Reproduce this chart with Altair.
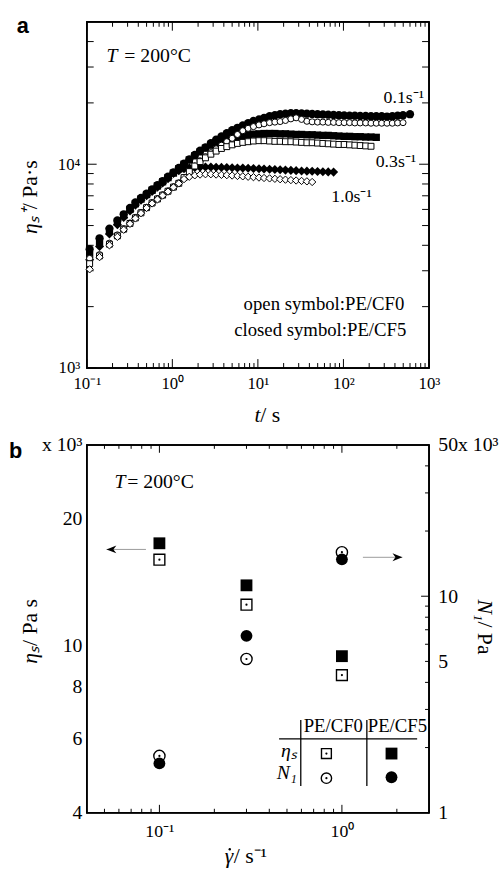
import altair as alt
import pandas as pd

SERIF = "Liberation Serif"
SANS = "Liberation Sans"

# ---------------- panel a : eta_s^+ (t) ----------------
T_GRID = [0.108, 0.141, 0.184, 0.228, 0.27, 0.32, 0.37, 0.43, 0.50, 0.58,
          0.67, 0.77, 0.89, 1.03, 1.19, 1.37, 1.58, 1.83, 2.11, 2.44,
          2.82, 3.25, 3.75, 4.33, 5.0, 5.77, 6.66, 7.69, 8.88, 10.3,
          11.8, 13.7, 15.8, 18.2, 21.0, 24.3, 28.0, 32.4, 37.4, 43.1,
          49.8, 57.5, 66.4, 76.7, 88.5, 102, 118, 136, 157, 182,
          210, 242, 280, 323, 373, 430, 497, 600]

# closed symbols : PE/CF5
CF5_01 = [3830, 4330, 4830, 5300, 5680, 6100, 6490, 6840, 7180, 7520,
          7890, 8270, 8690, 9120, 9590, 10060, 10570, 11100, 11650, 12100,
          12700, 13200, 13700, 14200, 14700, 15100, 15500, 15900, 16300, 16600,
          16900, 17200, 17400, 17600, 17700, 17800, 17800, 17750, 17700, 17650,
          17600, 17550, 17500, 17450, 17400, 17350, 17300, 17300, 17250, 17250,
          17200, 17200, 17200, 17150, 17200, 17300, 17400, 17600]
CF5_03 = [3600, 4150, 4700, 5200, 5600, 6000, 6400, 6750, 7100, 7450,
          7820, 8200, 8600, 9050, 9500, 10000, 10500, 11000, 11500, 12000,
          12400, 12750, 13050, 13300, 13500, 13700, 13850, 13950, 14050, 14100,
          14150, 14150, 14150, 14100, 14100, 14050, 14000, 14000, 13950, 13950,
          13900, 13850, 13850, 13800, 13750, 13700, 13700, 13650, 13650, 13600,
          13600, 13550]
CF5_10 = [3400, 3950, 4550, 5050, 5480, 5900, 6300, 6650, 7000, 7350,
          7720, 8100, 8500, 9000, 9300, 9500, 9600, 9650, 9680, 9690,
          9680, 9670, 9650, 9630, 9610, 9590, 9570, 9550, 9530, 9500,
          9480, 9450, 9420, 9390, 9360, 9330, 9300, 9270, 9250, 9230,
          9210, 9190, 9170, 9150]
# open symbols : PE/CF0
CF0_01 = [3450, 3600, 4100, 4500, 4830, 5150, 5480, 5800, 6150, 6480,
          6780, 7080, 7400, 7750, 8100, 8600, 9200, 9800, 10400, 10900,
          11400, 11900, 12400, 12900, 13400, 14000, 14600, 15000, 15300, 15600,
          15800, 16000, 16100, 16200, 16400, 16700, 16900, 16600, 16250, 16150,
          16100, 16100, 16050, 16050, 16000, 16000, 16000, 15950, 15950, 15950,
          15900, 15900, 15900, 15900, 15900, 15950, 16000]
CF0_03 = [3250, 3550, 4050, 4450, 4800, 5120, 5450, 5770, 6120, 6450,
          6750, 7050, 7370, 7720, 8060, 8600, 9200, 9800, 10300, 10750,
          11200, 11600, 11950, 12200, 12450, 12650, 12800, 12900, 13000, 13050,
          13050, 13000, 12950, 12950, 12900, 12900, 12850, 12800, 12750, 12750,
          12700, 12650, 12600, 12550, 12500, 12500, 12450, 12400, 12350, 12300,
          12250]
CF0_10 = [3050, 3500, 4000, 4400, 4770, 5100, 5420, 5750, 6100, 6420,
          6720, 7020, 7340, 7700, 8050, 8450, 8680, 8820, 8900, 8930,
          8930, 8900, 8870, 8840, 8800, 8760, 8720, 8680, 8640, 8600,
          8560, 8520, 8480, 8440, 8400, 8360, 8320, 8280, 8240, 8180]

XA_MAJOR = [0.1, 1, 10, 100, 1000]
XA_MINOR = [m * d for d in (0.1, 1, 10, 100) for m in range(2, 10)]
YA_MAJOR = [1000, 10000]
YA_MINOR = [m * 1000 for m in range(2, 10)] + [20000, 30000, 40000]
XA_DOMAIN = [0.1, 1000]
YA_DOMAIN = [1000, 50000]

# ---------------- panel b : steady values ----------------
RATES = [0.1, 0.3, 1.0]
ETA_CF0 = [16000, 12500, 8500]
ETA_CF5 = [17500, 13900, 9430]
N1_CF0 = [1830, 5130, 15970]
N1_CF5 = [1690, 6560, 14800]

XB_MAJOR = [0.1, 1]
XB_MINOR = [0.05, 0.06, 0.07, 0.08, 0.09] + [m / 10 for m in range(2, 10)] + [2]
YB_L_LABELS = [4000, 6000, 8000, 10000, 20000, 30000]
YB_R_LABELS = [1000, 5000, 10000, 50000]
YB_R_MAJOR = [10000]
YB_R_MINOR = [m * 1000 for m in range(2, 10)] + [20000, 30000, 40000]
XB_DOMAIN = [0.04, 3]
YBL_DOMAIN = [4000, 30000]
YBR_DOMAIN = [1000, 50000]

W = 347
HA = 351
HB = 373

XA = alt.Scale(type="log", domain=XA_DOMAIN, nice=False)
YA = alt.Scale(type="log", domain=YA_DOMAIN, nice=False)
XB = alt.Scale(type="log", domain=XB_DOMAIN, nice=False)
YB_L = alt.Scale(type="log", domain=YBL_DOMAIN, nice=False)
YB_R = alt.Scale(type="log", domain=YBR_DOMAIN, nice=False)


def lab_axis(values, expr, size, pad, orient):
    return alt.Axis(values=values, labelExpr=expr, ticks=False, tickSize=0,
                    domain=False, grid=False, labelFont=SERIF, labelFontSize=size,
                    labelColor="black", labelPadding=pad, orient=orient,
                    labelFlush=False, labelOverlap=False)


xa_expr = ("datum.value < 0.5 ? '10⁻¹' : datum.value < 5 ? '10⁰' : "
           "datum.value < 50 ? '10¹' : datum.value < 500 ? '10²' : '10³'")
ya_expr = "datum.value < 5000 ? '10³' : '10⁴'"
xb_expr = "datum.value < 0.5 ? '10⁻¹' : '10⁰'"
yl_expr = "datum.value > 25000 ? 'x 10³' : format(datum.value / 1000, 'd')"
yr_expr = "datum.value > 25000 ? '50x 10³' : format(datum.value / 1000, 'd')"

XA_AXIS = lab_axis(XA_MAJOR, xa_expr, 17, 8, "bottom")
YA_AXIS = lab_axis(YA_MAJOR, ya_expr, 17, 7, "left")
XB_AXIS = lab_axis(XB_MAJOR, xb_expr, 18, 10, "bottom")
YBL_AXIS = lab_axis(YB_L_LABELS, yl_expr, 20, 5, "left")
YBR_AXIS = lab_axis(YB_R_LABELS, yr_expr, 20, 9, "right")


def txt(s, x, y, size, style="normal", align="left", angle=0, font=SERIF,
        weight="normal", baseline="alphabetic"):
    return alt.Chart(pd.DataFrame({"s": [s]})).mark_text(
        align=align, baseline=baseline, fontSize=size, font=font,
        fontStyle=style, fontWeight=weight, angle=angle, color="black"
    ).encode(x=alt.value(x), y=alt.value(y), text="s:N")


def seg(x1, y1, x2, y2, color="black", width=1.3):
    return alt.Chart(pd.DataFrame({"s": [0]})).mark_rule(
        color=color, strokeWidth=width).encode(
        x=alt.value(x1), y=alt.value(y1), x2=alt.value(x2), y2=alt.value(y2))


def bar(x1, y1, x2, y2):
    # thin filled strip (used for the box edges)
    return alt.Chart(pd.DataFrame({"s": [0]})).mark_rect(color="black", opacity=1).encode(
        x=alt.value(x1), y=alt.value(y1), x2=alt.value(x2), y2=alt.value(y2))


def frame(xdom, ydom, xs, ys, xaxis, yaxis, Wd, H):
    vx = pd.DataFrame({"v": xdom})
    vy = pd.DataFrame({"v": ydom})
    v = alt.Chart(vx).mark_rule(color="black", strokeWidth=1.5).encode(
        x=alt.X("v:Q", scale=xs, axis=xaxis, title=None),
        y=alt.value(0), y2=alt.value(H))
    h = alt.Chart(vy).mark_rule(color="black", strokeWidth=1.5).encode(
        y=alt.Y("v:Q", scale=ys, axis=yaxis, title=None),
        x=alt.value(0), x2=alt.value(Wd))
    e = 0.7
    strips = [bar(-e, -e, Wd + e, e), bar(-e, H - e, Wd + e, H + e),
              bar(-e, -e, e, H + e), bar(Wd - e, -e, Wd + e, H + e)]
    return [v, h] + strips


def xticks(vals, scale, axis, length, H):
    df = pd.DataFrame({"v": vals})
    xe = alt.X("v:Q", scale=scale, axis=axis, title=None)
    b = alt.Chart(df).mark_rule(color="black", strokeWidth=1).encode(
        x=xe, y=alt.value(H), y2=alt.value(H - length))
    t = alt.Chart(df).mark_rule(color="black", strokeWidth=1).encode(
        x=xe, y=alt.value(0), y2=alt.value(length))
    return [b, t]


def yticks(vals, scale, axis, length, Wd, left=True, right=True):
    df = pd.DataFrame({"v": vals})
    out = []
    if left:
        out.append(alt.Chart(df).mark_rule(color="black", strokeWidth=1).encode(
            y=alt.Y("v:Q", scale=scale, axis=axis, title=None),
            x=alt.value(0), x2=alt.value(length)))
    if right:
        out.append(alt.Chart(df).mark_rule(color="black", strokeWidth=1).encode(
            y=alt.Y("v:Q", scale=scale, axis=axis, title=None),
            x=alt.value(Wd), x2=alt.value(Wd - length)))
    return out


def series_df(vals):
    return pd.DataFrame({"t": T_GRID[:len(vals)], "eta": vals})


def pts_a(vals, shape, size, filled):
    base = alt.Chart(series_df(vals))
    if filled:
        m = base.mark_point(shape=shape, size=size, filled=True, color="black", opacity=1)
    else:
        m = base.mark_point(shape=shape, size=size, filled=True, fill="white",
                            stroke="black", strokeWidth=1, opacity=1)
    return m.encode(x=alt.X("t:Q", scale=XA, axis=XA_AXIS, title=None),
                    y=alt.Y("eta:Q", scale=YA, axis=YA_AXIS, title=None))


anchor = alt.Chart(pd.DataFrame({"s": [0]})).mark_point(size=0, opacity=0).encode(
    x=alt.value(-87), y=alt.value(-15))

layers_a = [anchor] + frame(XA_DOMAIN, YA_DOMAIN, XA, YA, XA_AXIS, YA_AXIS, W, HA)
layers_a += xticks(XA_MAJOR, XA, XA_AXIS, 9, HA) + xticks(XA_MINOR, XA, XA_AXIS, 5, HA)
layers_a += yticks(YA_MAJOR, YA, YA_AXIS, 10, W) + yticks(YA_MINOR, YA, YA_AXIS, 7, W)
layers_a += [
    pts_a(CF5_01, "circle", 70, True),
    pts_a(CF5_03, "square", 55, True),
    pts_a(CF5_10, "diamond", 85, True),
    pts_a(CF0_01, "circle", 38, False),
    pts_a(CF0_03, "square", 36, False),
    pts_a(CF0_10, "diamond", 55, False),
    txt("a", -71, 11, 22, font=SANS, weight="bold"),
    txt("T", 20, 41, 20, style="italic"),
    txt("= 200°C", 38, 41, 20),
    txt("0.1s⁻¹", 301, 82, 18),
    txt("0.3s⁻¹", 293, 147, 18),
    txt("1.0s⁻¹", 248, 183, 18),
    txt("open symbol:PE/CF0", 322, 292, 19, align="right"),
    txt("closed symbol:PE/CF5", 324, 319, 19, align="right"),
    txt("ηₛ⁺", -50, 190, 22, style="italic", align="right", angle=270),
    txt(" / Pa·s", -50, 190, 22, align="left", angle=270),
    txt("t", 170, 406, 22, style="italic"),
    txt(" / s", 176, 406, 22),
]
panel_a = alt.layer(*layers_a).properties(width=W, height=HA)

# ---------------- panel b ----------------
df_b = pd.DataFrame({"rate": RATES, "eta0": ETA_CF0, "eta5": ETA_CF5,
                     "n0": N1_CF0, "n5": N1_CF5})


def pts_b(field, scale, shape, size, filled, yaxis=None, dot=False):
    base = alt.Chart(df_b)
    xe = alt.X("rate:Q", scale=XB, axis=XB_AXIS, title=None)
    if filled:
        m = base.mark_point(shape=shape, size=size, filled=True, color="black", opacity=1)
    else:
        m = base.mark_point(shape=shape, size=size, filled=True, fill="white",
                            stroke="black", strokeWidth=1.4, opacity=1)
    out = [m.encode(x=xe, y=alt.Y(field + ":Q", scale=scale, axis=yaxis, title=None))]
    if dot:
        out.append(base.mark_point(shape="circle", size=5, filled=True,
                                   color="black", opacity=1).encode(
            x=xe, y=alt.Y(field + ":Q", scale=scale, axis=None, title=None)))
    return out


def sym(x, y, shape, size, filled):
    base = alt.Chart(pd.DataFrame({"s": [0]}))
    if filled:
        m = base.mark_point(shape=shape, size=size, filled=True, color="black", opacity=1)
    else:
        m = base.mark_point(shape=shape, size=size, filled=True, fill="white",
                            stroke="black", strokeWidth=1.4, opacity=1)
    return m.encode(x=alt.value(x), y=alt.value(y))


LEFT_HEAD = "M -1 0 L 1 -0.8 L 0.4 0 L 1 0.8 Z"
RIGHT_HEAD = "M 1 0 L -1 -0.8 L -0.4 0 L -1 0.8 Z"

layers_b = frame(XB_DOMAIN, YBL_DOMAIN, XB, YB_L, XB_AXIS, None, W, HB)
layers_b += xticks(XB_MAJOR, XB, XB_AXIS, 8, HB) + xticks(XB_MINOR, XB, XB_AXIS, 4, HB)
layers_b += yticks(YB_R_MAJOR, YB_R, None, 8, W, left=False) + yticks(YB_R_MINOR, YB_R, None, 4, W, left=False)
layers_b += pts_b("eta5", YB_L, "square", 144, True, yaxis=YBL_AXIS)
layers_b += pts_b("eta0", YB_L, "square", 121, False, dot=True)
layers_b += pts_b("n0", YB_R, "circle", 130, False, dot=True)
layers_b += pts_b("n5", YB_R, "circle", 144, True, yaxis=YBR_AXIS)
layers_b += [
    seg(20, 106, 60, 106, color="#9a9a9a", width=1),
    sym(25, 106, LEFT_HEAD, 100, True),
    seg(280, 114, 320, 114, color="#9a9a9a", width=1),
    sym(315, 114, RIGHT_HEAD, 100, True),
    # legend table
    seg(195, 298, 335, 298),
    seg(217, 279, 217, 346),
    seg(284, 279, 284, 346),
    txt("PE/CF0", 250, 291, 19, align="center"),
    txt("PE/CF5", 315, 291, 19, align="center"),
    txt("ηₛ", 213, 316, 20, style="italic", align="right"),
    txt("N₁", 213, 339, 20, style="italic", align="right"),
    sym(243, 313, "square", 100, False),
    sym(243, 313, "circle", 5, True),
    sym(309, 313, "square", 144, True),
    sym(243, 338, "circle", 110, False),
    sym(243, 338, "circle", 5, True),
    sym(309, 337, "circle", 144, True),
    # texts
    txt("b", -79, 13, 22, font=SANS, weight="bold"),
    txt("T", 28, 44, 20, style="italic"),
    txt("= 200°C", 41, 44, 20),
    txt("ηₛ", -50, 204, 22, style="italic", align="right", angle=270),
    txt(" / Pa s", -50, 204, 22, align="left", angle=270),
    txt("N₁", 397, 179, 22, style="italic", align="right", angle=90),
    txt(" / Pa", 397, 179, 22, align="left", angle=90),
    txt("γ", 140, 424, 22, style="italic"),
    sym(145, 410, "circle", 6, True),
    txt(" / s⁻¹", 149, 424, 22),
]
panel_b = alt.layer(*layers_b).resolve_scale(y="independent").properties(width=W, height=HB)

chart = alt.vconcat(panel_a, panel_b, spacing=78, bounds="flush").properties(
    padding={"left": 0, "top": 0, "right": 0, "bottom": 0},
    background="white",
).configure_view(stroke="black", strokeWidth=1.3)

chart.save("out.html", embed_options={"renderer": "svg", "actions": False})
